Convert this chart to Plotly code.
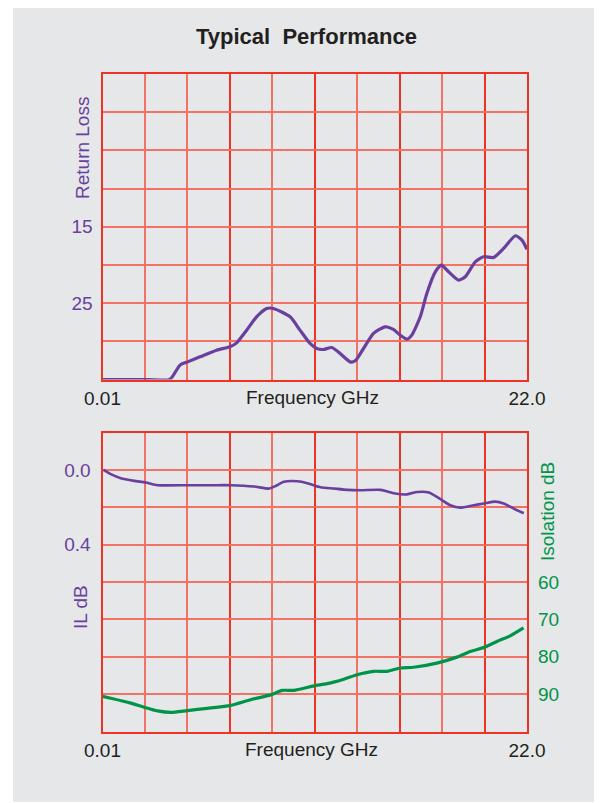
import numpy as np
import plotly.graph_objects as go

# ---------------- data ----------------
rl_freq = [0.01, 1.20, 2.40, 3.50, 4.02, 4.42, 5.06, 5.92, 6.61, 6.96, 7.48, 7.99, 8.52, 8.86,
           9.73, 10.24, 10.76, 11.11, 11.45, 11.89, 12.32, 12.84, 13.10, 13.53,
           14.05, 14.65, 15.08, 15.43, 15.78, 16.03, 16.47, 16.81, 17.25, 17.56,
           17.94, 18.46, 18.80, 19.32, 19.75, 20.27, 20.79, 21.40, 21.74, 22.00]
rl_db = [35.0, 35.0, 35.0, 35.0, 33.12, 32.69, 32.03, 31.16, 30.72, 30.20, 28.54, 26.79, 25.70, 25.70,
         26.79, 28.54, 30.28, 30.94, 31.07, 30.81, 31.59, 32.69, 32.55, 30.94,
         28.97, 28.10, 28.45, 29.19, 29.72, 29.19, 26.79, 23.73, 20.90, 20.02,
         20.90, 21.99, 21.55, 19.59, 18.93, 19.02, 17.84, 16.18, 16.75, 17.97]

il_freq = [0.06, 0.44, 0.96, 1.65, 2.25, 2.86, 4.41, 5.62, 6.65, 7.86, 8.64, 8.98,
           9.41, 10.10, 10.62, 11.31, 12.00, 12.69, 13.38, 14.42, 15.10, 15.79,
           16.31, 16.92, 17.52, 18.03, 18.55, 19.24, 19.76, 20.36, 20.79, 21.31, 21.83]
il_db = [0.0, 0.023, 0.045, 0.059, 0.068, 0.082, 0.082, 0.082, 0.082, 0.089, 0.100, 0.086,
         0.064, 0.061, 0.071, 0.093, 0.100, 0.107, 0.109, 0.107, 0.125, 0.131,
         0.118, 0.121, 0.157, 0.189, 0.202, 0.189, 0.180, 0.170, 0.180, 0.207, 0.232]

iso_freq = [0.01, 0.44, 1.47, 2.16, 2.86, 3.55, 4.41, 5.44, 6.65, 7.68, 8.72, 9.32,
            9.92, 10.96, 11.65, 12.51, 13.20, 14.06, 14.75, 15.44, 16.13, 17.33,
            18.37, 19.06, 19.84, 20.44, 21.13, 21.82]
iso_db = [90.6, 91.1, 92.4, 93.5, 94.5, 94.9, 94.4, 93.8, 93.0, 91.5, 90.2, 89.0,
          89.0, 87.8, 87.2, 86.0, 84.8, 83.9, 83.9, 83.0, 82.8, 81.7,
          80.1, 78.6, 77.4, 75.9, 74.4, 72.3]

f_min, f_max = 0.01, 22.0
x_ticktext_ends = ["0.01", "22.0"]
rl_tick_labels = {15: "15", 25: "25"}
il_tick_labels = {0.0: "0.0", 0.4: "0.4"}
iso_ticks = [60, 70, 80, 90]

# ---------------- styling ----------------
PURPLE = "#6A3F9E"
GREEN = "#00944A"
RED = "#EE3326"
RED_LIGHT = "#F27363"
BG = "#E6E7E8"
FONT = "Liberation Sans, Arial, sans-serif"

W, H = 602, 803
OFF = 8  # page body margin offset
def px_x(v): return (v - OFF) / W
def px_y(v): return 1 - (v - OFF) / H

xdom = [px_x(102.5), px_x(527)]
ydom_top = [px_y(379.5), px_y(74)]
ydom_bot = [px_y(731.5), px_y(432.5)]

xgrid = list(np.linspace(f_min, f_max, 11))
major_idx = [0, 3, 5, 7, 9, 10]
x_major = [xgrid[i] for i in major_idx]
x_minor = [xgrid[i] for i in range(11) if i not in major_idx]
x_text = [x_ticktext_ends[0] if i == 0 else (x_ticktext_ends[1] if i == 10 else "") for i in major_idx]

rl_grid = list(range(-5, 36, 5))
rl_text = [rl_tick_labels.get(v, "") for v in rl_grid]
il_grid = [round(-0.2 + 0.2 * i, 1) for i in range(9)]
il_text = [il_tick_labels.get(v, "") for v in il_grid]

fig = go.Figure()
fig.add_trace(go.Scatter(x=rl_freq, y=rl_db, mode="lines", line=dict(color=PURPLE, width=3.2, shape="spline", smoothing=0.6),
                         xaxis="x", yaxis="y", showlegend=False, hoverinfo="skip", cliponaxis=False))
fig.add_trace(go.Scatter(x=il_freq, y=il_db, mode="lines", line=dict(color=PURPLE, width=2.6, shape="spline", smoothing=0.6),
                         xaxis="x2", yaxis="y2", showlegend=False, hoverinfo="skip"))
fig.add_trace(go.Scatter(x=iso_freq, y=iso_db, mode="lines", line=dict(color=GREEN, width=3.2, shape="spline", smoothing=0.6),
                         xaxis="x2", yaxis="y3", showlegend=False, hoverinfo="skip"))

xaxis_common = dict(
    domain=xdom, range=[f_min, f_max], tickmode="array", tickvals=x_major, ticktext=x_text,
    showgrid=True, gridcolor=RED, gridwidth=2, zeroline=False,
    showline=True, linecolor=RED, linewidth=2.2, mirror=True, ticks="",
    tickfont=dict(family=FONT, size=19, color="#231F20"), ticklabelstandoff=1,
    minor=dict(tickmode="array", tickvals=x_minor, showgrid=True, gridcolor=RED_LIGHT, gridwidth=1.5, ticks=""),
)
fig.update_layout(
    width=W, height=H, margin=dict(l=0, r=0, t=0, b=0, autoexpand=False),
    paper_bgcolor="white", plot_bgcolor=BG,
    xaxis=dict(**xaxis_common, anchor="y"),
    xaxis2=dict(**xaxis_common, anchor="y2"),
    yaxis=dict(domain=ydom_top, range=[35, -5], tickmode="array", tickvals=rl_grid, ticktext=rl_text,
               showgrid=True, gridcolor=RED_LIGHT, gridwidth=1.5, zeroline=False,
               showline=True, linecolor=RED, linewidth=2.2, mirror=True, ticks="",
               tickfont=dict(family=FONT, size=19, color=PURPLE), ticklabelstandoff=4, anchor="x"),
    yaxis2=dict(domain=ydom_bot, range=[1.4, -0.2], tickmode="array", tickvals=il_grid, ticktext=il_text,
                showgrid=True, gridcolor=RED_LIGHT, gridwidth=1.5, zeroline=False,
                showline=True, linecolor=RED, linewidth=2.2, mirror=True, ticks="",
                tickfont=dict(family=FONT, size=19, color=PURPLE), ticklabelstandoff=6, anchor="x2"),
    yaxis3=dict(overlaying="y2", side="right", range=[100, 20], tickmode="array", tickvals=iso_ticks,
                showgrid=False, zeroline=False, showline=False, ticks="",
                tickfont=dict(family=FONT, size=19, color=GREEN), ticklabelstandoff=10, anchor="x2"),
    shapes=[dict(type="rect", xref="paper", yref="paper", x0=px_x(13), x1=1, y0=px_y(802), y1=px_y(7),
                 fillcolor=BG, line=dict(width=0), layer="below")],
    annotations=[
        dict(text="<b>Typical  Performance</b>", xref="paper", yref="paper", x=px_x(306), y=px_y(36),
             showarrow=False, font=dict(family=FONT, size=22, color="#231F20"), xanchor="center", yanchor="middle"),
        dict(text="Return Loss", xref="paper", yref="paper", x=px_x(82), y=px_y(148), textangle=-90,
             showarrow=False, font=dict(family=FONT, size=19, color=PURPLE), xanchor="center", yanchor="middle"),
        dict(text="IL dB", xref="paper", yref="paper", x=px_x(80), y=px_y(607), textangle=-90,
             showarrow=False, font=dict(family=FONT, size=19, color=PURPLE), xanchor="center", yanchor="middle"),
        dict(text="Isolation dB", xref="paper", yref="paper", x=px_x(548), y=px_y(512), textangle=-90,
             showarrow=False, font=dict(family=FONT, size=19, color=GREEN), xanchor="center", yanchor="middle"),
        dict(text="Frequency GHz", xref="paper", yref="paper", x=px_x(312), y=px_y(398),
             showarrow=False, font=dict(family=FONT, size=19, color="#231F20"), xanchor="center", yanchor="middle"),
        dict(text="Frequency GHz", xref="paper", yref="paper", x=px_x(311), y=px_y(749),
             showarrow=False, font=dict(family=FONT, size=19, color="#231F20"), xanchor="center", yanchor="middle"),
    ],
)

fig.write_html("out.html")
